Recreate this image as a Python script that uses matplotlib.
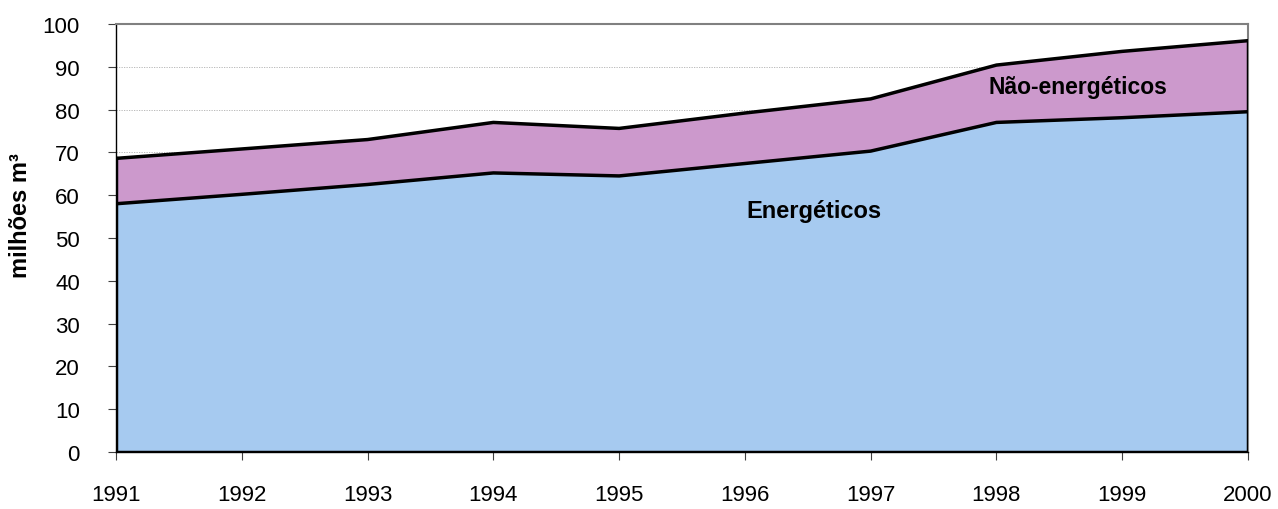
import matplotlib.pyplot as plt
import numpy as np

plt.rcParams["font.family"] = ["Liberation Sans", "DejaVu Sans"]

years = [1991, 1992, 1993, 1994, 1995, 1996, 1997, 1998, 1999, 2000]
energeticos = [58.0, 60.2, 62.5, 65.2, 64.5, 67.4, 70.3, 77.0, 78.1, 79.5]
nao_energeticos = [10.6, 10.6, 10.5, 11.8, 11.1, 11.8, 12.2, 13.4, 15.5, 16.6]
y_ticks = list(range(0, 101, 10))

x = np.array(years, dtype=float)
e = np.array(energeticos)
total = e + np.array(nao_energeticos)

fig = plt.figure(figsize=(12.78, 5.10), dpi=100)
ax = fig.add_axes([0.0908, 0.1118, 0.8857, 0.8392])

for yv in y_ticks[1:-1]:
    ax.axhline(yv, color="#b0b0b0", linewidth=0.6, linestyle=(0, (1.5, 1.5)), zorder=0)

ax.fill_between(x, 0, e, color="#a6caf0", linewidth=0, zorder=1)
ax.fill_between(x, e, total, color="#cc99cc", linewidth=0, zorder=1)
ax.plot(x, e, color="black", linewidth=2.5, zorder=3)
ax.plot(x, total, color="black", linewidth=2.5, zorder=3)
ax.plot([x[0], x[0]], [0, total[0]], color="black", linewidth=2.5, zorder=3)
ax.plot([x[-1], x[-1]], [0, total[-1]], color="black", linewidth=2.5, zorder=3)
ax.plot([x[0], x[-1]], [0, 0], color="black", linewidth=2.5, zorder=3)

ax.set_xlim(x[0], x[-1])
ax.set_ylim(0, 100)
ax.set_xticks(years)
ax.set_yticks(y_ticks)
ax.tick_params(axis="both", labelsize=16, length=6, width=0.8, color="#404040")
ax.tick_params(axis="x", pad=17)
ax.tick_params(axis="y", pad=20)

for side in ["top", "right"]:
    ax.spines[side].set_color("#808080")
    ax.spines[side].set_linewidth(1.5)
for side in ["left", "bottom"]:
    ax.spines[side].set_color("black")
    ax.spines[side].set_linewidth(1.0)

ax.set_ylabel("milhões m³", fontsize=17, fontweight="bold")
ax.yaxis.set_label_coords(-0.074, 0.555)

ax.text(1996.55, 56.5, "Energéticos", fontsize=17, fontweight="bold", ha="center", va="center", zorder=4)
ax.text(1998.65, 85.3, "Não-energéticos", fontsize=16.5, fontweight="bold", ha="center", va="center", zorder=4)

fig.savefig("out.png", dpi=100)
